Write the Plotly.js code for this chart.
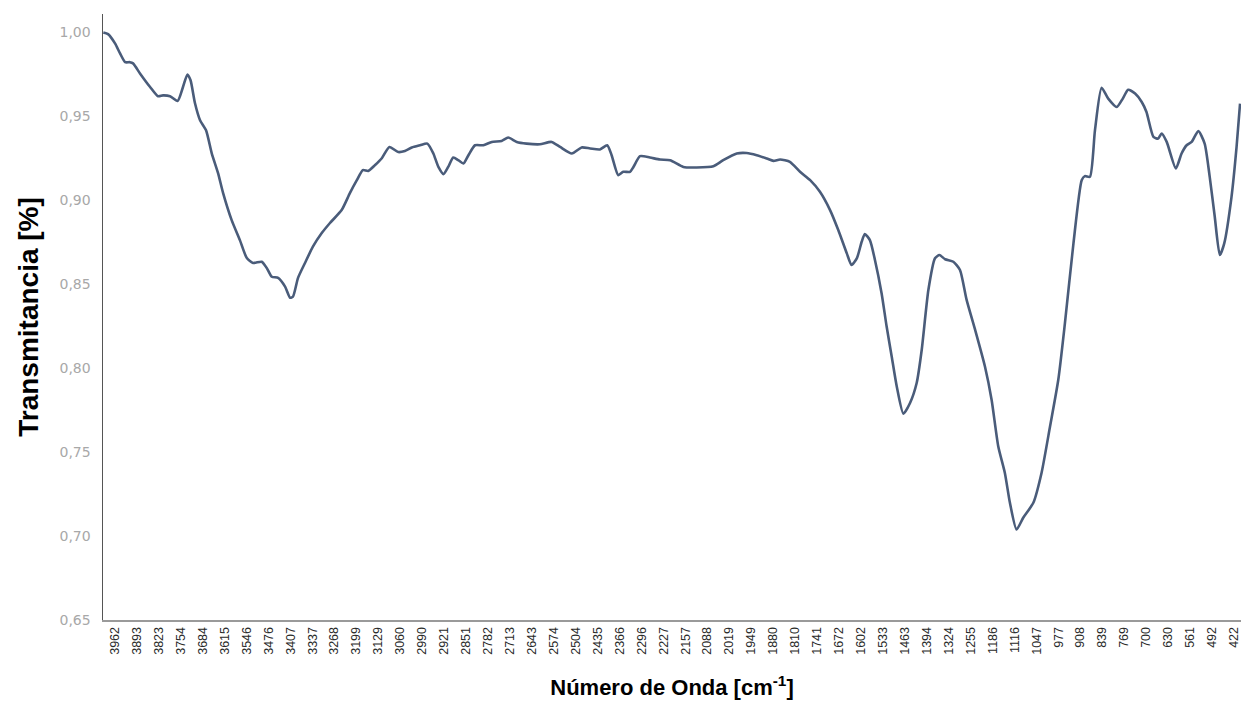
<!DOCTYPE html>
<html>
<head>
<meta charset="utf-8">
<script src="https://cdn.plot.ly/plotly-3.0.1.min.js"></script>
<style>html,body{margin:0;padding:0;background:#fff;}#chart{width:1241px;height:706px;}</style>
</head>
<body>
<div id="chart"></div>
<script>
// Wavenumber (cm-1) and transmittance
const wavenumber = [3999,3984,3962,3946,3930,3915,3905,3883,3851,3826,3810,3788,3764,3747,3733,3723,3709,3693,3674,3656,3636,3620,3593,3567,3545,3525,3498,3482,3466,3446,3424,3408,3399,3383,3361,3336,3308,3282,3245,3219,3197,3178,3161,3140,3118,3094,3066,3045,3023,2997,2974,2955,2939,2923,2908,2892,2876,2860,2844,2823,2797,2770,2739,2718,2691,2660,2618,2581,2554,2517,2486,2459,2428,2405,2391,2370,2354,2333,2322,2301,2270,2238,2206,2164,2122,2069,2038,1995,1964,1932,1900,1879,1858,1827,1795,1763,1732,1700,1674,1647,1632,1615,1600,1590,1574,1558,1537,1521,1505,1489,1468,1447,1426,1410,1389,1368,1354,1336,1310,1289,1268,1241,1210,1189,1168,1147,1131,1110,1089,1057,1031,1004,978,957,930,904,894,878,862,841,820,793,774,757,735,714,699,677,662,651,635,606,588,572,556,535,515,499,483,467,453,430,414,403];
const transmittance = [1.000,0.999,0.9935,0.9875,0.9823,0.9823,0.9816,0.9756,0.9675,0.962,0.9625,0.962,0.9592,0.9675,0.975,0.9715,0.9578,0.9477,0.9417,0.928,0.9162,0.9043,0.8882,0.8763,0.8656,0.8627,0.8634,0.8597,0.8545,0.8538,0.8486,0.842,0.8426,0.8538,0.8627,0.8724,0.8805,0.8865,0.8942,0.9043,0.912,0.918,0.9175,0.9209,0.9251,0.9318,0.9288,0.9294,0.9315,0.9328,0.9338,0.9279,0.9199,0.9156,0.9199,0.9255,0.9239,0.9219,0.9269,0.9328,0.9328,0.9348,0.9354,0.9374,0.9348,0.9338,0.9334,0.9348,0.9318,0.9279,0.9315,0.9309,0.9303,0.9328,0.9269,0.915,0.917,0.917,0.9199,0.9263,0.9255,0.9243,0.9239,0.9199,0.9196,0.9203,0.9239,0.9279,0.9282,0.9269,0.9249,0.9235,0.9243,0.9229,0.917,0.912,0.9051,0.8942,0.8823,0.8684,0.8615,0.8656,0.8753,0.8799,0.8763,0.8645,0.8447,0.8248,0.807,0.7891,0.7729,0.7793,0.7912,0.811,0.8466,0.8655,0.8674,0.8649,0.8634,0.8585,0.8407,0.8228,0.801,0.7812,0.7535,0.7376,0.7198,0.7039,0.7109,0.7198,0.7376,0.7654,0.7931,0.8268,0.8744,0.912,0.9144,0.914,0.9417,0.9671,0.9606,0.9556,0.9606,0.9659,0.9636,0.9586,0.9526,0.9378,0.9368,0.9398,0.9348,0.919,0.9279,0.9328,0.9348,0.9413,0.9338,0.914,0.8902,0.8674,0.8744,0.9021,0.9318,0.9576];
// X tick labels
const xTickValues = [3962,3893,3823,3754,3684,3615,3546,3476,3407,3337,3268,3199,3129,3060,2990,2921,2851,2782,2713,2643,2574,2504,2435,2366,2296,2227,2157,2088,2019,1949,1880,1810,1741,1672,1602,1533,1463,1394,1324,1255,1186,1116,1047,977,908,839,769,700,630,561,492,422];
const yTickValues = [0.65,0.70,0.75,0.80,0.85,0.90,0.95,1.00];

const trace = {
  x: wavenumber,
  y: transmittance,
  type: 'scatter',
  mode: 'lines',
  line: {color: '#4a5c7a', width: 2.6, shape: 'spline', smoothing: 0.6},
  hoverinfo: 'x+y'
};

const layout = {
  width: 1241,
  height: 706,
  margin: {l: 103, r: 0, t: 14, b: 86},
  paper_bgcolor: '#ffffff',
  plot_bgcolor: '#ffffff',
  showlegend: false,
  separators: ',.',
  font: {family: 'Liberation Sans, Arial, sans-serif', color: '#333'},
  xaxis: {
    type: 'linear',
    range: [4000, 400],
    tickmode: 'array',
    tickvals: xTickValues,
    ticktext: xTickValues.map(String),
    tickangle: -90,
    ticklabeloverflow: 'allow',
    tickfont: {size: 12.5, color: '#2a2a2a', family: 'Liberation Sans, Arial, sans-serif'},
    showgrid: false,
    zeroline: false,
    showline: true,
    linecolor: '#9a9a9a',
    linewidth: 2,
    ticks: '',
    title: {
      text: '<b>Número de Onda [cm<sup>-1</sup>]</b>',
      font: {size: 22, color: '#000', family: 'Liberation Sans, Arial, sans-serif'},
      standoff: 26
    }
  },
  yaxis: {
    range: [0.65, 1.011],
    tickmode: 'array',
    tickvals: yTickValues,
    tickformat: '.2f',
    tickfont: {size: 14, color: '#a8a8a8', family: 'DejaVu Sans, sans-serif'},
    ticklabelstandoff: 8,
    showgrid: false,
    zeroline: false,
    showline: true,
    linecolor: '#555',
    linewidth: 1.5,
    ticks: '',
    title: {
      text: '<b>Transmitancia [%]</b>',
      font: {size: 28, color: '#000', family: 'Liberation Sans, Arial, sans-serif'},
      standoff: 12
    }
  }
};

Plotly.newPlot('chart', [trace], layout, {displayModeBar: false, staticPlot: true});
</script>
</body>
</html>
